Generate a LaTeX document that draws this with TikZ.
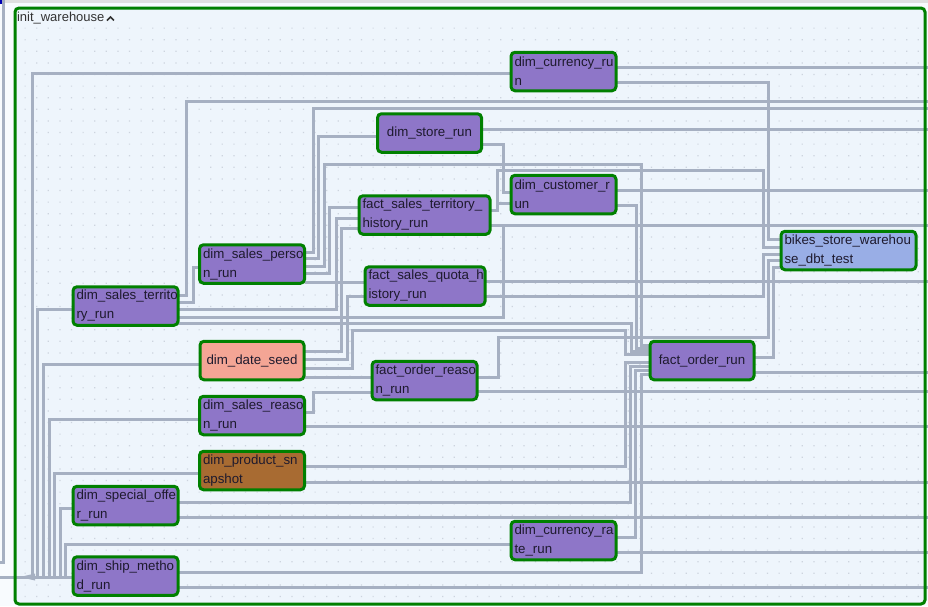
\documentclass[tikz,border=0pt]{standalone}
\usepackage{fontspec}
\setmainfont{Liberation Sans}
\usetikzlibrary{calc}
\definecolor{taskPurple}{RGB}{142,118,200}
\definecolor{taskGreen}{RGB}{0,128,0}
\definecolor{seedSalmon}{RGB}{244,165,149}
\definecolor{snapBrown}{RGB}{168,107,50}
\definecolor{testBlue}{RGB}{153,174,230}
\definecolor{wireGrey}{RGB}{166,176,194}
\definecolor{groupFill}{RGB}{238,245,252}
\definecolor{dotGrey}{RGB}{205,212,222}
\definecolor{taskText}{RGB}{30,26,46}
\pgfdeclarelayer{bg}
\pgfdeclarelayer{wires}
\pgfsetlayers{bg,wires,main}

\begin{document}
\begin{tikzpicture}[x=1pt, y=-1pt, outer sep=0pt,
  task/.style={draw=taskGreen, line width=3pt, rounded corners=4pt, fill=taskPurple,
    minimum width=104pt, minimum height=38.5pt, inner xsep=3.5pt,
    font=\fontsize{13.3}{19}\selectfont, text=taskText},
  wrap/.style={text width=#1, align=left},
  wire/.style={draw=wireGrey, line width=3pt}]

\useasboundingbox (0,0) rectangle (928,606);

% group frame and grid
\begin{pgfonlayer}{bg}
  \fill[white!60!groupFill] (0,0) rectangle (928,606);
  \fill[black!12] (0,0) rectangle (928,2.5);
  \fill[blue!70!black] (0,0) rectangle (2.5,4);
  \fill[groupFill, rounded corners=4pt] (15,8) rectangle (925,604);
  \foreach \j in {0,...,49} {
    \fill[dotGrey] \foreach \i in {0,...,77} {(24.5+\i*11.6, 27.5+\j*11.6) rectangle ++(1.2,1.2)};
  }
\end{pgfonlayer}
\draw[taskGreen, line width=3pt, rounded corners=4pt] (15,8) rectangle (925,604);
\node[anchor=west, inner sep=0pt, font=\fontsize{13}{15}\selectfont, text=black!80] at (17,18) (GROUP_LABEL) {init\_warehouse};
\draw[black!80, line width=1.5pt] ($(GROUP_LABEL.east)+(2.5,2.5)$) -- ++(3.5,-3.5) -- ++(3.5,3.5);

% tasks
\node[task, wrap=98pt] at (563.5, 71.5) (DIM_CURRENCY) {dim\_currency\_ru\\n};
\node[task] at (429.5, 133) (DIM_STORE) {dim\_store\_run};
\node[task, wrap=98pt] at (563.5, 194.5) (DIM_CUSTOMER) {dim\_customer\_r\\un};
\node[task, wrap=124pt, minimum width=130pt] at (424.5, 215) (FACT_TERRITORY) {fact\_sales\_territory\_\\history\_run};
\node[task, wrap=128pt, minimum width=134pt, fill=testBlue] at (848.5, 250.5) (DBT_TEST) {bikes\_store\_warehou\\se\_dbt\_test};
\node[task, wrap=98pt] at (252, 264) (DIM_PERSON) {dim\_sales\_perso\\n\_run};
\node[task, wrap=113pt, minimum width=119pt] at (425, 286) (FACT_QUOTA) {fact\_sales\_quota\_h\\istory\_run};
\node[task, wrap=98pt] at (125.5, 306) (DIM_TERRITORY) {dim\_sales\_territo\\ry\_run};
\node[task, fill=seedSalmon] at (252, 360.5) (DIM_DATE) {dim\_date\_seed};
\node[task] at (702, 360.5) (FACT_ORDER) {fact\_order\_run};
\node[task, wrap=98pt] at (424.5, 380.5) (FACT_REASON) {fact\_order\_reaso\\n\_run};
\node[task, wrap=98pt] at (252, 415.5) (DIM_REASON) {dim\_sales\_reaso\\n\_run};
\node[task, wrap=98pt, fill=snapBrown] at (252, 470.5) (DIM_PRODUCT) {dim\_product\_sn\\apshot};
\node[task, wrap=98pt] at (125.5, 505.5) (DIM_OFFER) {dim\_special\_offe\\r\_run};
\node[task, wrap=98pt] at (563.5, 540.5) (DIM_RATE) {dim\_currency\_ra\\te\_run};
\node[task, wrap=98pt] at (125.5, 576) (DIM_SHIP) {dim\_ship\_metho\\d\_run};

\coordinate (INLET) at (0,577);
\coordinate (SRC) at (25,577);
\coordinate (OUT) at (928,0);
\coordinate (UP_TOP) at (3,0);
\coordinate (UP_END) at (0,562);

\begin{pgfonlayer}{wires}
  % from upstream
  \draw[wire] (INLET) -- (SRC);
  \draw[wire] (UP_TOP) |- (UP_END);
  \fill[wireGrey] (20,577) -- (35,573.5) -- (35,580.5) -- cycle;
  \draw[wire] (SRC) -| (32,73) -- (DIM_CURRENCY.west |- 0,73);
  \draw[wire] (SRC) -| (37,309) -- (DIM_TERRITORY.west |- 0,309);
  \draw[wire] (SRC) -| (43,364) -- (DIM_DATE.west |- 0,364);
  \draw[wire] (SRC) -| (49,419) -- (DIM_REASON.west |- 0,419);
  \draw[wire] (SRC) -| (54,473) -- (DIM_PRODUCT.west |- 0,473);
  \draw[wire] (SRC) -| (60,508) -- (DIM_OFFER.west |- 0,508);
  \draw[wire] (SRC) -| (65,544) -- (DIM_RATE.west |- 0,544);
  \draw[wire] (SRC) -- (DIM_SHIP.west |- 0,577);

  % dim_currency_run
  \draw[wire] (DIM_CURRENCY.east |- 0,67) -- (OUT |- 0,67);
  \draw[wire] (DIM_CURRENCY.east |- 0,82) -| (768,239) -- (DBT_TEST.west |- 0,239);

  % dim_sales_territory_run
  \draw[wire] (DIM_TERRITORY.east |- 0,295) -| (186,101) -- (OUT |- 0,101);
  \draw[wire] (DIM_TERRITORY.east |- 0,302) -| (193,267) -- (DIM_PERSON.west |- 0,267);
  \draw[wire] (DIM_TERRITORY.east |- 0,309) -| (336,218) -- (FACT_TERRITORY.west |- 0,218);
  \draw[wire] (DIM_TERRITORY.east |- 0,317) -| (503,225) -- (OUT |- 0,225);
  \draw[wire] (DIM_TERRITORY.east |- 0,323) -| (631,351) -- (FACT_ORDER.west |- 0,351);

  % dim_sales_person_run
  \draw[wire] (DIM_PERSON.east |- 0,252) -| (313,108) -- (OUT |- 0,108);
  \draw[wire] (DIM_PERSON.east |- 0,258) -| (318,136) -- (DIM_STORE.west |- 0,136);
  \draw[wire] (DIM_PERSON.east |- 0,266) -| (324,164) -| (641,345) -- (FACT_ORDER.west |- 0,345);
  \draw[wire] (DIM_PERSON.east |- 0,273) -| (329,207) -- (FACT_TERRITORY.west |- 0,207);
  \draw[wire] (DIM_PERSON.east |- 0,282) -- (FACT_QUOTA.west |- 0,282);

  % dim_store_run, fact_sales_territory_history_run, dim_customer_run
  \draw[wire] (DIM_STORE.east |- 0,129) -- (OUT |- 0,129);
  \draw[wire] (DIM_STORE.east |- 0,144) -| (503,192) -- (DIM_CUSTOMER.west |- 0,192);
  \draw[wire] (FACT_TERRITORY.east |- 0,210) -| (497,203) -- (DIM_CUSTOMER.west |- 0,203);
  \draw[wire] (FACT_TERRITORY.east |- 0,210) -| (497,170) -| (763,247) -- (DBT_TEST.west |- 0,247);
  \draw[wire] (FACT_TERRITORY.east |- 0,225) -- (OUT |- 0,225);
  \draw[wire] (DIM_CUSTOMER.east |- 0,190) -- (OUT |- 0,190);
  \draw[wire] (DIM_CUSTOMER.east |- 0,205) -| (636,348) -- (FACT_ORDER.west |- 0,348);

  % dim_date_seed
  \draw[wire] (DIM_DATE.east |- 0,351) -| (341,228) -- (FACT_TERRITORY.west |- 0,228);
  \draw[wire] (DIM_DATE.east |- 0,359) -| (347,296) -- (FACT_QUOTA.west |- 0,296);
  \draw[wire] (DIM_DATE.east |- 0,368) -| (352,330) -| (625,354) -- (FACT_ORDER.west |- 0,354);
  \draw[wire] (DIM_DATE.east |- 0,377) -- (FACT_REASON.west |- 0,377);

  % fact_sales_quota_history_run, fact_order_reason_run, dim_sales_reason_run
  \draw[wire] (FACT_QUOTA.east |- 0,281) -- (OUT |- 0,281);
  \draw[wire] (FACT_QUOTA.east |- 0,296) -| (763,254) -- (DBT_TEST.west |- 0,254);
  \draw[wire] (FACT_REASON.east |- 0,377) -| (498,337) -| (768,260) -- (DBT_TEST.west |- 0,260);
  \draw[wire] (FACT_REASON.east |- 0,391) -- (OUT |- 0,391);
  \draw[wire] (DIM_REASON.east |- 0,412) -| (313,392) -- (FACT_REASON.west |- 0,392);
  \draw[wire] (DIM_REASON.east |- 0,426) -- (OUT |- 0,426);

  % fact_order_run
  \draw[wire] (FACT_ORDER.east |- 0,357) -| (773,267) -- (DBT_TEST.west |- 0,267);
  \draw[wire] (FACT_ORDER.east |- 0,372) -- (OUT |- 0,372);

  % lower dims
  \draw[wire] (DIM_PRODUCT.east |- 0,466) -| (625,362) -- (FACT_ORDER.west |- 0,362);
  \draw[wire] (DIM_PRODUCT.east |- 0,482) -- (OUT |- 0,482);
  \draw[wire] (DIM_OFFER.east |- 0,502) -| (630,366) -- (FACT_ORDER.west |- 0,366);
  \draw[wire] (DIM_OFFER.east |- 0,517) -- (OUT |- 0,517);
  \draw[wire] (DIM_RATE.east |- 0,537) -| (635,370) -- (FACT_ORDER.west |- 0,370);
  \draw[wire] (DIM_RATE.east |- 0,552) -- (OUT |- 0,552);
  \draw[wire] (DIM_SHIP.east |- 0,572) -| (641,374) -- (FACT_ORDER.west |- 0,374);
  \draw[wire] (DIM_SHIP.east |- 0,587) -- (OUT |- 0,587);
\end{pgfonlayer}
\end{tikzpicture}
\end{document}
